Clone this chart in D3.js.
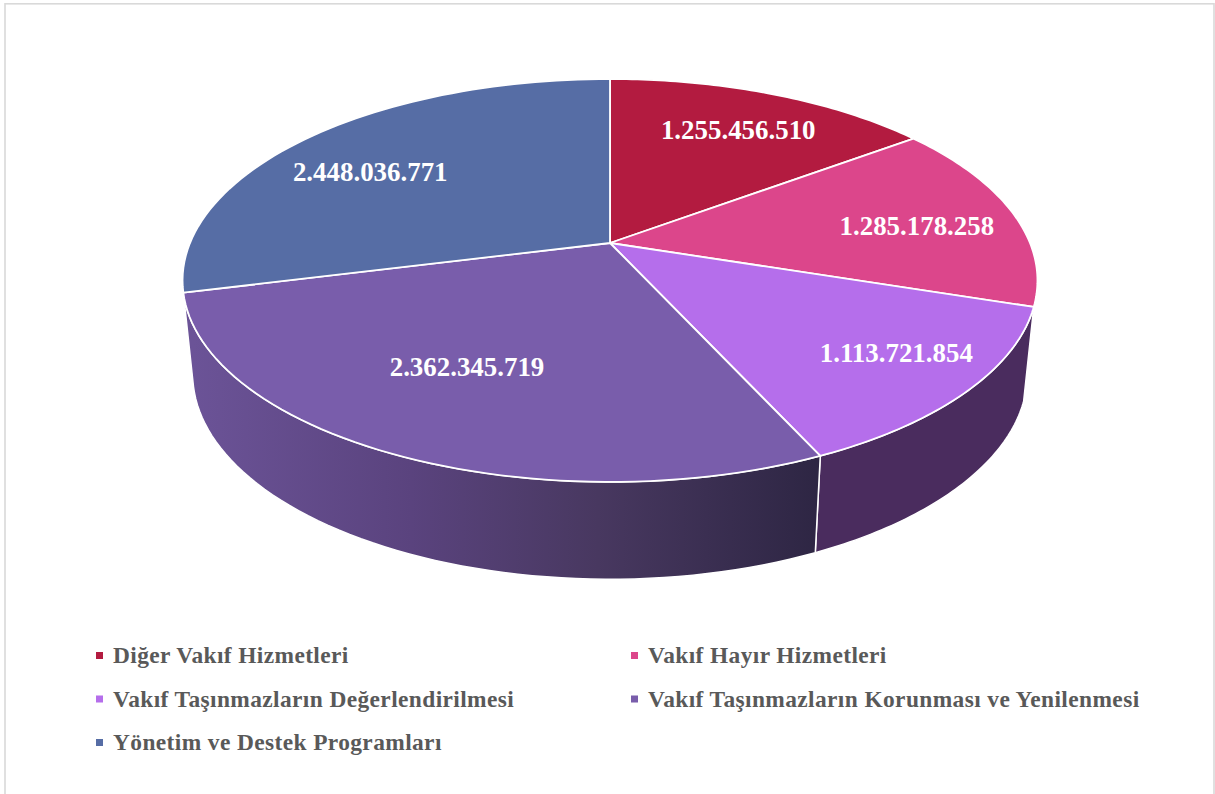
<!DOCTYPE html>
<html><head><meta charset="utf-8">
<script src="https://cdn.jsdelivr.net/npm/d3@7"></script>
<style>html,body{margin:0;padding:0;background:#fff;overflow:hidden}svg{display:block}text{font-family:"Liberation Serif",serif;font-weight:bold}</style>
</head><body><svg id="c" width="1215" height="794"></svg>
<script>
const categories=["Diğer Vakıf Hizmetleri","Vakıf Hayır Hizmetleri","Vakıf Taşınmazların Değerlendirilmesi","Vakıf Taşınmazların Korunması ve Yenilenmesi","Yönetim ve Destek Programları"];
const values=[1255456510,1285178258,1113721854,2362345719,2448036771];
const labels=["1.255.456.510","1.285.178.258","1.113.721.854","2.362.345.719","2.448.036.771"];
const topColors=["#b31b40","#dc468b","#b56eeb","#795dab","#566da5"];
const labelNudge=[[-5,10],[-17,7],[8,-5],[25,-38],[3,17]];
const legendCols=[0,1,0,1,0];
const legendRows=[0,0,1,1,2];

const svg=d3.select("#c");
svg.append("rect").attr("x",5).attr("y",3.8).attr("width",1209).attr("height",800).attr("fill","#fff").attr("stroke","#d9d9d9").attr("stroke-width",1.6);

const arcs=d3.pie().value(d=>d).sort(null)(values);
const K=0.186;
const proj=(p)=>(t,r=1)=>{const w=1+K*r*Math.cos(t);return [p.cx+p.a*r*Math.sin(t)/w,p.cy-p.b*r*Math.cos(t)/w];};
const topFace=proj({cx:610,cy:243,a:420,b:194.5});
const botFace=proj({cx:610,cy:336,a:410,b:198});
const sample=(f,t0,t1)=>d3.range(0,61).map(i=>f(t0+(t1-t0)*i/60));
const line=d3.line().curve(d3.curveLinear);
const defs=svg.append("defs");
const wallMid=arcs[3].startAngle, wallEnd=arcs[3].endAngle;
const g=defs.append("linearGradient").attr("id","wall").attr("gradientUnits","userSpaceOnUse")
 .attr("x1",botFace(wallEnd)[0]).attr("x2",botFace(wallMid)[0]).attr("y1",0).attr("y2",0);
[[0,"#6b5397"],[0.35,"#5a437e"],[0.65,"#483860"],[1,"#2e2644"]].forEach(s=>g.append("stop").attr("offset",s[0]).attr("stop-color",s[1]));

// walls
const walls=[[arcs[2],"#4a2c5e"],[arcs[3],"url(#wall)"]];
svg.selectAll("path.wall").data(walls).join("path").attr("class","wall")
 .attr("d",d=>line([...sample(topFace,d[0].startAngle,d[0].endAngle),...sample(botFace,d[0].endAngle,d[0].startAngle)])+"Z")
 .attr("fill",d=>d[1]).attr("stroke","#fff").attr("stroke-width",1.5).attr("stroke-linejoin","round");

// top face
svg.selectAll("path.slice").data(arcs).join("path").attr("class","slice")
 .attr("d",d=>line([[610,243],...sample(topFace,d.startAngle,d.endAngle)])+"Z")
 .attr("fill",(d,i)=>topColors[i]).attr("stroke","#fff").attr("stroke-width",1.8).attr("stroke-linejoin","round");

// labels
svg.selectAll("text.val").data(arcs).join("text").attr("class","val")
 .attr("x",(d,i)=>topFace((d.startAngle+d.endAngle)/2,0.8)[0]+labelNudge[i][0])
 .attr("y",(d,i)=>topFace((d.startAngle+d.endAngle)/2,0.8)[1]+labelNudge[i][1]+9)
 .attr("text-anchor","middle").attr("fill","#fff").attr("font-size",26.9).text((d,i)=>labels[i]);

// legend
const lx=d3.scaleOrdinal().domain([0,1]).range([96,631]);
const ly=d3.scaleOrdinal().domain([0,1,2]).range([655.5,699,742.5]);
const leg=svg.selectAll("g.leg").data(categories).join("g").attr("class","leg")
 .attr("transform",(d,i)=>`translate(${lx(legendCols[i])},${ly(legendRows[i])})`);
leg.append("rect").attr("x",0).attr("y",-3.5).attr("width",7).attr("height",7).attr("fill",(d,i)=>topColors[i]);
leg.append("text").attr("x",17).attr("y",7.5).attr("font-size",23.4).attr("fill","#595959").attr("letter-spacing",0.4).text(d=>d);
</script></body></html>
